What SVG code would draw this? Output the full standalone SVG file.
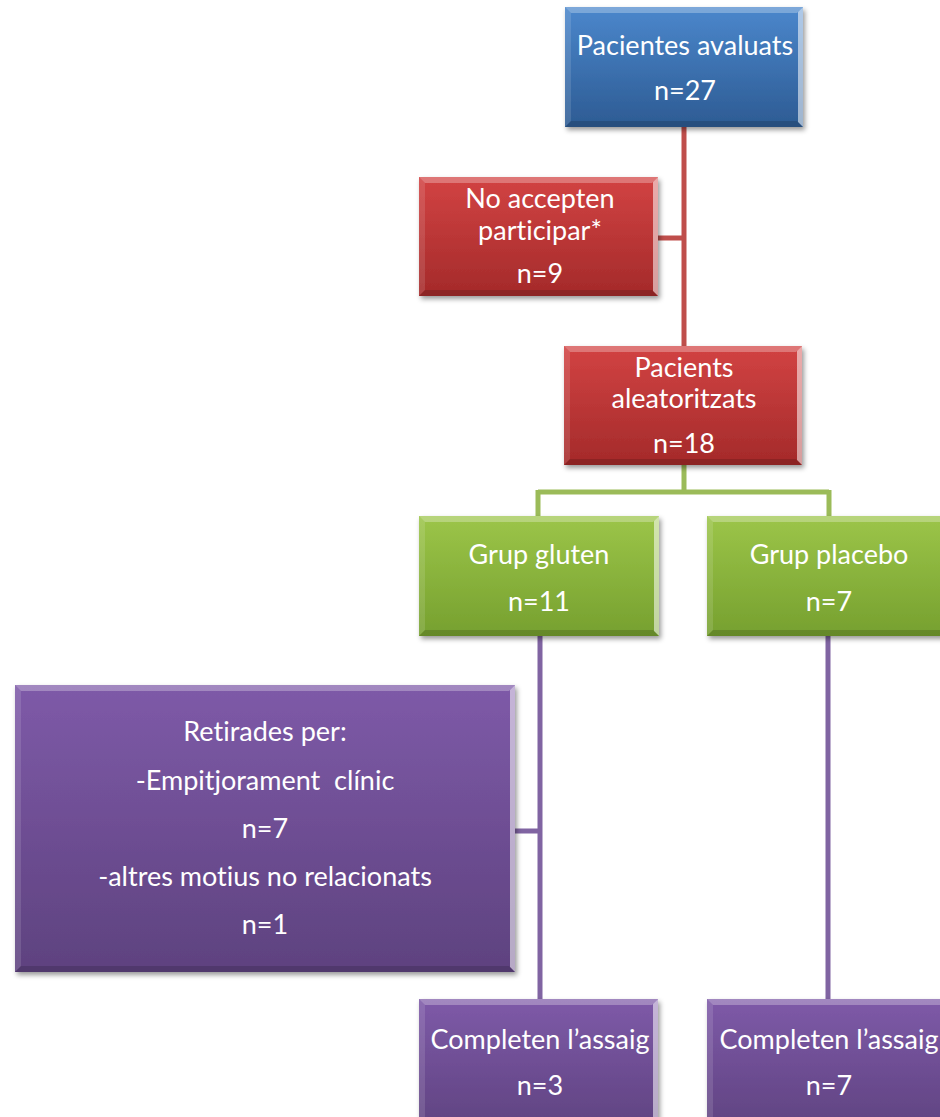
<svg xmlns="http://www.w3.org/2000/svg" width="940" height="1117" viewBox="0 0 940 1117">
<style>
text{font-family:Lato,"Open Sans","Liberation Sans",sans-serif;font-size:27px;fill:#ffffff;text-anchor:middle;font-variant-ligatures:none;font-feature-settings:"liga" 0,"dlig" 0}
.hl{fill:#ffffff;opacity:0.28}
.lt{fill:#ffffff;opacity:0.12}
.dk{fill:#000000;opacity:0.15}
.edge{fill:#ffffff;opacity:0.55}
.red{stroke:#bf4e4b;stroke-width:5;fill:none}
.grn{stroke:#9bbb59;stroke-width:5;fill:none}
.pur{stroke:#8064a2;stroke-width:5;fill:none}
</style>
<defs>
<linearGradient id="gBlue" x1="0" y1="0" x2="0" y2="1"><stop offset="0" stop-color="#4b87cc"/><stop offset="1" stop-color="#2d5b93"/></linearGradient>
<linearGradient id="gRed" x1="0" y1="0" x2="0" y2="1"><stop offset="0" stop-color="#d24343"/><stop offset="1" stop-color="#a42a2a"/></linearGradient>
<linearGradient id="gGreen" x1="0" y1="0" x2="0" y2="1"><stop offset="0" stop-color="#9cc549"/><stop offset="1" stop-color="#76a02f"/></linearGradient>
<linearGradient id="gPurple" x1="0" y1="0" x2="0" y2="1"><stop offset="0" stop-color="#7e5aa8"/><stop offset="1" stop-color="#5e427f"/></linearGradient>
<filter id="sh" x="-10%" y="-10%" width="125%" height="130%"><feDropShadow dx="2" dy="3" stdDeviation="2.5" flood-color="#000" flood-opacity="0.4"/></filter>
</defs>
<rect width="940" height="1117" fill="#ffffff"/>
<g id="connectors">
<path class="red" d="M684 127V346M658 238H684"/>
<path class="grn" d="M684 465V492M538 492H829M538 490V516M829 490V516"/>
<path class="pur" d="M540 636V999M515 831H540M828 636V999"/>
</g>
<g id="n-avaluats">
<rect x="565" y="7" width="238" height="120" fill="url(#gBlue)" filter="url(#sh)"/>
<polygon class="hl" points="565,7 803,7 797,13 571,13"/>
<polygon class="lt" points="565,7 571,13 571,121 565,127"/>
<polygon class="edge" points="803,7 803,127 798,122 798,12"/>
<polygon class="dk" points="565,127 803,127 797,121 571,121"/>
<text x="685" y="55">Pacientes avaluats</text>
<text x="685" y="100">n=27</text>
</g>
<g id="n-noaccepten">
<rect x="419" y="177" width="239" height="119" fill="url(#gRed)" filter="url(#sh)"/>
<polygon class="hl" points="419,177 658,177 652,183 425,183"/>
<polygon class="lt" points="419,177 425,183 425,290 419,296"/>
<polygon class="edge" points="658,177 658,296 653,291 653,182"/>
<polygon class="dk" points="419,296 658,296 652,290 425,290"/>
<text x="540" y="208">No accepten</text>
<text x="540" y="240">participar*</text>
<text x="540" y="283">n=9</text>
</g>
<g id="n-aleatoritzats">
<rect x="564" y="346" width="238" height="119" fill="url(#gRed)" filter="url(#sh)"/>
<polygon class="hl" points="564,346 802,346 796,352 570,352"/>
<polygon class="lt" points="564,346 570,352 570,459 564,465"/>
<polygon class="edge" points="802,346 802,465 797,460 797,351"/>
<polygon class="dk" points="564,465 802,465 796,459 570,459"/>
<text x="684" y="377">Pacients</text>
<text x="684" y="408">aleatoritzats</text>
<text x="684" y="453">n=18</text>
</g>
<g id="n-gluten">
<rect x="419" y="516" width="240" height="120" fill="url(#gGreen)" filter="url(#sh)"/>
<polygon class="hl" points="419,516 659,516 653,522 425,522"/>
<polygon class="lt" points="419,516 425,522 425,630 419,636"/>
<polygon class="edge" points="659,516 659,636 654,631 654,521"/>
<polygon class="dk" points="419,636 659,636 653,630 425,630"/>
<text x="539" y="564">Grup gluten</text>
<text x="539" y="611">n=11</text>
</g>
<g id="n-placebo">
<rect x="707" y="516" width="240" height="120" fill="url(#gGreen)" filter="url(#sh)"/>
<polygon class="hl" points="707,516 947,516 941,522 713,522"/>
<polygon class="lt" points="707,516 713,522 713,630 707,636"/>
<polygon class="dk" points="707,636 947,636 941,630 713,630"/>
<text x="829" y="564">Grup placebo</text>
<text x="829" y="611">n=7</text>
</g>
<g id="n-retirades">
<rect x="15" y="685" width="500" height="287" fill="url(#gPurple)" filter="url(#sh)"/>
<polygon class="hl" points="15,685 515,685 509,691 21,691"/>
<polygon class="lt" points="15,685 21,691 21,966 15,972"/>
<polygon class="edge" points="515,685 515,972 510,967 510,690"/>
<polygon class="dk" points="15,972 515,972 509,966 21,966"/>
<text x="265" y="741">Retirades per:</text>
<text x="265" y="790" xml:space="preserve">-Empitjorament  clínic</text>
<text x="265" y="838">n=7</text>
<text x="265" y="886">-altres motius no relacionats</text>
<text x="265" y="934">n=1</text>
</g>
<g id="n-completen-gluten">
<rect x="419" y="999" width="239" height="136" fill="url(#gPurple)" filter="url(#sh)"/>
<polygon class="hl" points="419,999 658,999 652,1005 425,1005"/>
<polygon class="lt" points="419,999 425,1005 425,1135 419,1135"/>
<polygon class="edge" points="658,999 658,1135 653,1135 653,1004"/>
<text x="540" y="1049">Completen l’assaig</text>
<text x="540" y="1095">n=3</text>
</g>
<g id="n-completen-placebo">
<rect x="707" y="999" width="240" height="136" fill="url(#gPurple)" filter="url(#sh)"/>
<polygon class="hl" points="707,999 947,999 941,1005 713,1005"/>
<polygon class="lt" points="707,999 713,1005 713,1135 707,1135"/>
<text x="829" y="1049">Completen l’assaig</text>
<text x="829" y="1095">n=7</text>
</g>
</svg>
